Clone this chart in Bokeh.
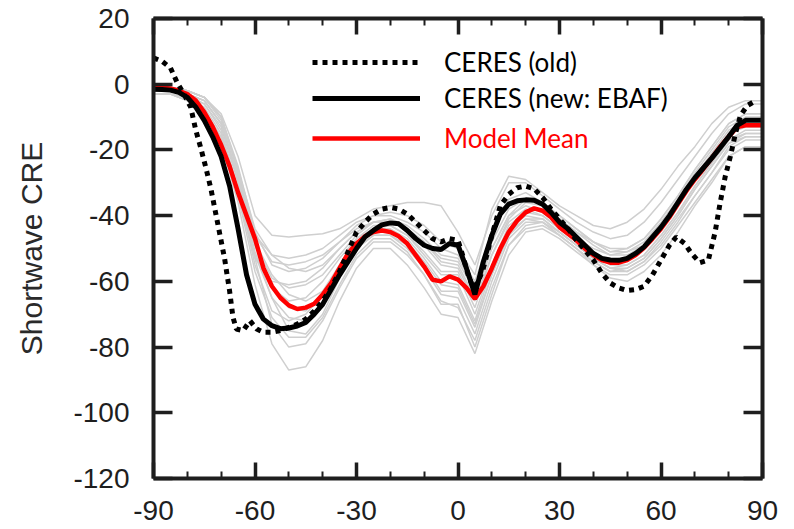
from bokeh.plotting import figure
from bokeh.models import Range1d, LinearAxis, FixedTicker, Legend, LegendItem
from bokeh.embed import file_html
from bokeh.resources import INLINE

# ---------------- data ----------------
x_ticks = [-90, -60, -30, 0, 30, 60, 90]
x_minor = [-80, -70, -50, -40, -20, -10, 10, 20, 40, 50, 70, 80]
y_ticks = [-120, -100, -80, -60, -40, -20, 0, 20]
x_tick_labels = ["-90", "-60", "-30", "0", "30", "60", "90"]
y_tick_labels = ["-120", "-100", "-80", "-60", "-40", "-20", "0", "20"]

# model latitudes (5 degree grid)
model_lat = [-90, -85, -80, -75, -70, -65, -60, -55, -50, -45, -40, -35, -30, -25, -20,
             -15, -10, -5, 0, 5, 10, 15, 20, 25, 30, 35, 40, 45, 50, 55, 60, 65, 70,
             75, 80, 85, 90]

model_01 = [-1, -1, -2, -4, -9, -22, -40, -46, -46.5, -46, -45.5, -44, -41, -38, -37, -36, -36, -37, -45, -55, -40, -30, -30, -34, -38, -42, -45, -47, -46, -42, -36, -29, -22, -15, -9, -6, -6]
model_02 = [-2, -2, -3, -5, -12, -28, -46, -52, -53, -52, -50, -46, -42, -40, -40, -42, -45, -50, -52, -60, -45, -35, -33, -36, -40, -44, -48, -50, -50, -47, -41, -34, -26, -19, -12, -9, -9]
model_03 = [-3, -3, -5, -8, -16, -34, -53, -60, -61, -60, -56, -50, -45, -42, -41, -44, -48, -54, -55, -65, -50, -40, -37, -39, -43, -47, -51, -54, -53, -50, -44, -37, -29, -22, -15, -13, -13]
model_04 = [-1, -1, -2, -4, -10, -26, -48, -62, -66, -65, -60, -53, -47, -44, -43, -46, -52, -58, -58, -70, -55, -43, -39, -40, -44, -48, -52, -55, -55, -52, -46, -39, -31, -24, -17, -15, -15]
model_05 = [-2, -2, -4, -7, -15, -32, -55, -69, -72, -70, -64, -56, -49, -45, -45, -48, -54, -61, -62, -73, -58, -46, -41, -41, -45, -49, -53, -56, -56, -53, -47, -40, -32, -25, -18, -16, -16]
model_06 = [-3, -3, -5, -9, -18, -36, -61, -79, -87, -86, -78, -66, -56, -50, -50, -55, -62, -70, -71, -82, -66, -52, -45, -44, -47, -51, -55, -58, -58, -55, -50, -43, -36, -29, -22, -19, -19]
model_07 = [-2, -2, -3, -6, -13, -30, -53, -73, -80, -79, -72, -62, -53, -48, -48, -52, -58, -66, -68, -78, -62, -49, -43, -42, -46, -50, -54, -57, -57, -54, -48, -41, -34, -27, -20, -17, -17]
model_08 = [-1, -1, -2, -4, -10, -25, -45, -55, -57, -56, -53, -48, -44, -42, -42, -44, -49, -55, -56, -66, -52, -42, -38, -40, -44, -47, -50, -52, -51, -48, -42, -35, -27, -20, -13, -10, -10]
model_09 = [-2, -2, -3, -5, -12, -29, -48, -58, -64, -66, -63, -55, -47, -43, -43, -46, -51, -57, -57, -68, -52, -41, -36, -37, -41, -45, -49, -52, -52, -49, -43, -36, -28, -21, -14, -11, -11]
model_10 = [-3, -3, -4, -6, -14, -32, -52, -65, -75, -76, -70, -59, -50, -46, -46, -50, -56, -64, -65, -76, -60, -47, -42, -42, -45, -49, -53, -56, -55, -52, -46, -39, -31, -24, -17, -14, -14]
model_11 = [-1, -1, -2, -4, -10, -27, -46, -54, -55, -54, -52, -48, -43, -40, -39, -40, -43, -48, -50, -58, -38, -28, -29, -33, -37, -40, -43, -44, -42, -38, -32, -25, -19, -12, -7, -5, -5]
model_12 = [-2, -2, -3, -5, -12, -29, -49, -61, -68, -69, -64, -56, -48, -44, -44, -47, -53, -60, -61, -72, -56, -44, -40, -41, -45, -49, -53, -56, -57, -54, -49, -42, -34, -27, -19, -16, -16]
model_13 = [-1, -1, -2, -4, -10, -26, -44, -52, -56, -57, -55, -50, -45, -42, -42, -44, -48, -53, -54, -63, -48, -38, -35, -37, -41, -45, -48, -51, -50, -47, -41, -34, -26, -19, -12, -9, -9]
model_14 = [-3, -3, -5, -8, -16, -34, -57, -71, -77, -77, -71, -61, -52, -47, -47, -51, -58, -67, -67, -80, -64, -49, -44, -43, -46, -50, -55, -59, -60, -57, -52, -45, -37, -30, -22, -19, -19]
model_15 = [-2, -2, -3, -5, -12, -28, -49, -59, -62, -61, -58, -52, -46, -42, -41, -43, -47, -52, -53, -62, -50, -40, -35, -36, -40, -44, -48, -51, -51, -49, -44, -37, -29, -22, -15, -12, -12]
model_16 = [-1, -1, -2, -4, -11, -29, -51, -65, -71, -72, -67, -58, -50, -46, -46, -49, -55, -63, -63, -74, -58, -45, -41, -42, -46, -50, -54, -57, -56, -53, -47, -40, -32, -25, -18, -15, -15]

models = [model_01, model_02, model_03, model_04, model_05, model_06, model_07, model_08,
          model_09, model_10, model_11, model_12, model_13, model_14, model_15, model_16]

# observations / mean (2.5 degree grid)
lat_25 = [-90, -87.5, -85, -82.5, -80, -77.5, -75, -72.5, -70, -67.5, -65, -62.5, -60, -57.5,
          -55, -52.5, -50, -47.5, -45, -42.5, -40, -37.5, -35, -32.5, -30, -27.5, -25, -22.5,
          -20, -17.5, -15, -12.5, -10, -7.5, -5, -2.5, 0, 2.5, 5, 7.5, 10, 12.5, 15, 17.5,
          20, 22.5, 25, 27.5, 30, 32.5, 35, 37.5, 40, 42.5, 45, 47.5, 50, 52.5, 55, 57.5,
          60, 62.5, 65, 67.5, 70, 72.5, 75, 77.5, 80, 82.5, 85, 87.5, 90]

ceres_new = [-1.5, -1.6, -1.8, -2.5, -4, -7, -11, -16, -22, -31, -44, -58, -67, -71.5,
             -73.5, -74.4, -74.2, -73.6, -72.5, -70, -67, -62.5, -58, -54, -50, -46.5, -44.5, -42.8,
             -42.2, -42.5, -44.5, -47, -49, -50, -50.3, -48.5, -49, -56, -64, -54, -46, -39.5, -36.5, -35.5,
             -35.2, -35.3, -36.5, -39, -42, -44, -46.5, -49, -51.5, -53, -53.5, -53.6, -53, -51.5, -49.5, -46.5,
             -43.5, -40, -36, -32, -28.5, -25.5, -22.5, -19.3, -16, -12.5, -11, -11, -11]

model_mean = [-1, -1.1, -1.3, -2, -3, -5, -8.5, -13, -18.5, -25, -33, -40, -47, -56,
              -61.5, -65, -67.3, -68.4, -68, -66.8, -64, -60.5, -56, -51.5, -48.5, -46.3, -45, -44.5,
              -45, -46.3, -48.5, -52, -55.5, -59.5, -60, -58.5, -59.5, -62, -65.3, -61.5, -56, -50, -45, -41.5,
              -39, -37.8, -38.5, -40.5, -43.5, -45.5, -47.5, -50, -52, -53.5, -54.3, -54.3, -53.5, -52, -49.8, -47,
              -44, -40.5, -36.5, -32.5, -29, -25.8, -22.5, -19, -16, -13, -12.5, -12.5, -12.5]

ceres_old_lat = [-90, -87.5, -85, -83, -81, -79, -77.5, -76, -74.5, -73, -71, -69, -67.5, -66.5,
                 -65.5, -63.5, -61.5, -59.5, -57.5, -55, -52.5, -50, -47.5, -45, -42.5, -40, -37.5,
                 -35, -32.5, -30, -27.5, -25, -22.5, -20, -17.5, -15, -12.5, -10, -7.5, -5, -2.5, 0,
                 1.5, 3, 4.5, 6, 7.5, 10, 12.5, 15, 17.5, 20, 22.5, 25, 27.5, 30, 32.5, 35, 37.5, 40,
                 42.5, 45, 47.5, 50, 52.5, 55, 57.5, 60, 62.5, 64.5, 67, 69, 71.5, 74, 76, 77.5, 79,
                 80.5, 82, 83.5, 85.5, 87.5]
ceres_old = [8, 7, 5, 0.5, -3, -7, -14, -19.5, -25.5, -32, -42.5, -53, -63, -71,
             -74.5, -75, -72, -74.5, -75.5, -75.5, -75, -74, -73, -71.5, -69, -66, -62,
             -57, -51, -45, -42, -39.5, -38, -37.5, -38, -39.5, -42, -44.5, -47, -48, -47, -47.5,
             -52.5, -58, -62, -60, -56, -46, -37, -33.5, -31.5, -31, -31.8, -34.5, -38, -41, -44, -47.5, -50.5, -53.5,
             -57.5, -60.5, -62, -62.8, -62.5, -61.5, -58, -53.5, -49, -46.5, -48.5, -51.5, -54.3, -53.5, -45, -36, -28,
             -22, -15, -9.5, -6.5, -5.3]

# ---------------- figure ----------------
p = figure(width=794, height=529, output_backend="svg", toolbar_location=None,
           x_range=Range1d(-90, 90), y_range=Range1d(-120, 20),
           min_border_left=153, min_border_right=32, min_border_top=18, min_border_bottom=51)
p.outline_line_color = None
p.xgrid.visible = False
p.ygrid.visible = False
p.background_fill_color = "white"
p.border_fill_color = "white"

for m in models:
    p.line(model_lat, m, line_color="#cfcfcf", line_width=1.5)

r_mean = p.line(lat_25, model_mean, line_color="#ff0000", line_width=4.5)
r_new = p.line(lat_25, ceres_new, line_color="black", line_width=5)
r_old = p.line(ceres_old_lat, ceres_old, line_color="black", line_width=5, line_dash="5 5")

AX_COLOR = "#1e1e1e"
LBL_FONT = "Liberation Sans"


def style_x(ax, labels=True):
    ax.ticker = FixedTicker(ticks=x_ticks, minor_ticks=x_minor)
    ax.axis_line_width = 4
    ax.axis_line_color = AX_COLOR
    ax.major_tick_in = 16
    ax.major_tick_out = 0
    ax.minor_tick_in = 7
    ax.minor_tick_out = 0
    ax.major_tick_line_width = 3.5
    ax.minor_tick_line_width = 2
    ax.major_tick_line_color = AX_COLOR
    ax.minor_tick_line_color = AX_COLOR
    if labels:
        ax.major_label_overrides = dict(zip(x_ticks, x_tick_labels))
        ax.major_label_text_font = LBL_FONT
        ax.major_label_text_font_size = "28px"
        ax.major_label_text_color = AX_COLOR
        ax.major_label_standoff = 22
    else:
        ax.major_label_overrides = {t: "" for t in x_ticks}
        ax.major_label_standoff = 0


def style_y(ax, labels=True):
    ax.ticker = FixedTicker(ticks=y_ticks, minor_ticks=[])
    ax.axis_line_width = 4
    ax.axis_line_color = AX_COLOR
    ax.major_tick_in = 19
    ax.major_tick_out = 0
    ax.minor_tick_line_color = None
    ax.major_tick_line_width = 3.5
    ax.major_tick_line_color = AX_COLOR
    if labels:
        ax.major_label_overrides = dict(zip(y_ticks, y_tick_labels))
        ax.major_label_text_font = LBL_FONT
        ax.major_label_text_font_size = "28px"
        ax.major_label_text_color = AX_COLOR
        ax.major_label_standoff = 24
    else:
        ax.major_label_overrides = {t: "" for t in y_ticks}
        ax.major_label_standoff = 0


style_x(p.xaxis[0])
style_y(p.yaxis[0])
p.yaxis[0].axis_label = "Shortwave CRE"
p.yaxis[0].axis_label_text_font = LBL_FONT
p.yaxis[0].axis_label_text_font_size = "30px"
p.yaxis[0].axis_label_text_font_style = "normal"
p.yaxis[0].axis_label_text_color = "#2a2a2a"
p.yaxis[0].axis_label_standoff = 22

top_ax = LinearAxis()
style_x(top_ax, labels=False)
p.add_layout(top_ax, "above")
right_ax = LinearAxis()
style_y(right_ax, labels=False)
p.add_layout(right_ax, "right")

# legends
LEG_FONT = "Lato"
leg1 = Legend(items=[LegendItem(label="CERES (old)", renderers=[r_old]),
                     LegendItem(label="CERES (new: EBAF)", renderers=[r_new])],
              location=(159, 364))
leg2 = Legend(items=[LegendItem(label="Model Mean", renderers=[r_mean])],
              location=(159, 324))
for lg, col in ((leg1, "black"), (leg2, "#ff0000")):
    lg.label_text_font = LEG_FONT
    lg.label_text_font_size = "26px"
    lg.label_text_color = col
    lg.glyph_width = 108
    lg.glyph_height = 30
    lg.label_height = 30
    lg.label_standoff = 24
    lg.spacing = 4
    lg.padding = 0
    lg.margin = 0
    lg.border_line_color = None
    lg.background_fill_alpha = 0
    p.add_layout(lg, "center")

open("out.html", "w").write(file_html(p, INLINE))
